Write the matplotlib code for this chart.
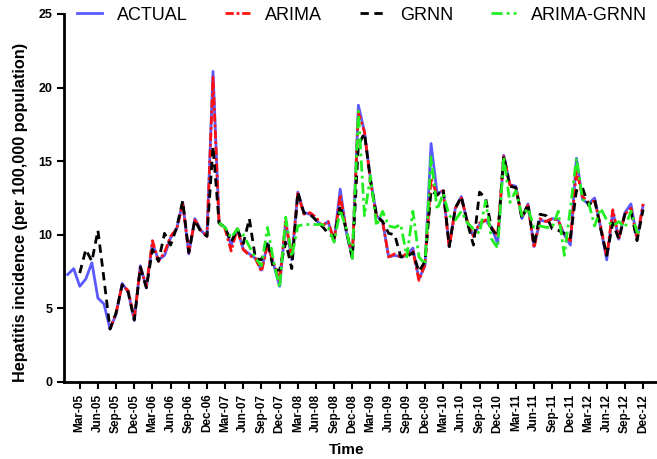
import numpy as np
import matplotlib
matplotlib.use("Agg")
import matplotlib.pyplot as plt

plt.rcParams['font.family'] = ['Liberation Sans', 'DejaVu Sans']

# monthly data, Jan-05 .. Dec-12 (index 0..95)
actual = [7.3, 7.7, 6.5, 7.0, 8.1, 5.7, 5.3, 3.6, 4.6, 6.7, 6.1, 4.2,
          7.9, 6.4, 9.4, 8.3, 8.6, 9.8, 10.4, 12.2, 8.7, 11.1, 10.3, 9.9,
          21.1, 10.8, 10.5, 9.3, 10.4, 9.0, 8.7, 8.4, 7.6, 9.4, 8.0, 6.5,
          10.9, 8.3, 12.9, 11.5, 11.4, 11.0, 10.6, 10.9, 9.6, 13.1, 10.2, 8.4,
          18.8, 17.0, 13.8, 11.3, 10.9, 8.5, 8.6, 8.5, 8.6, 9.1, 7.0, 7.9,
          16.2, 12.8, 13.0, 9.2, 11.8, 12.6, 10.8, 9.9, 10.7, 11.0, 10.5, 9.4,
          15.4, 13.4, 13.3, 11.1, 12.1, 9.2, 11.0, 10.9, 11.1, 11.0, 10.0, 9.3,
          15.2, 12.4, 12.1, 12.5, 10.5, 8.3, 11.6, 9.7, 11.5, 12.1, 9.7, 12.0]

arima_start = 7
arima = [3.6, 4.7, 6.6, 6.2, 4.3,
         7.8, 6.5, 9.6, 8.2, 8.8, 9.9, 10.4, 12.1, 8.8, 11.0, 10.3, 9.9,
         20.7, 10.8, 10.4, 8.9, 10.4, 9.0, 8.6, 8.4, 7.5, 9.3, 8.1, 6.9,
         10.9, 8.4, 12.8, 11.4, 11.5, 11.2, 10.6, 10.9, 9.6, 12.7, 10.3, 8.5,
         18.3, 17.0, 13.6, 11.2, 10.9, 8.5, 8.7, 8.5, 8.7, 8.9, 6.9, 8.0,
         13.8, 12.7, 13.0, 9.1, 11.8, 12.5, 10.9, 9.9, 10.8, 11.0, 10.5, 9.9,
         15.4, 13.4, 13.2, 11.2, 12.0, 9.1, 11.1, 10.9, 11.1, 11.0, 9.9, 9.6,
         14.4, 12.6, 12.2, 12.3, 10.6, 8.5, 11.7, 9.8, 11.4, 11.8, 9.7, 12.1]

grnn_start = 2
grnn = [7.4, 9.0, 8.2, 10.3, 7.0, 3.6, 4.7, 6.6, 6.1, 4.2,
        7.8, 6.4, 9.0, 8.2, 10.1, 9.3, 10.5, 12.3, 8.8, 11.0, 10.2, 9.9,
        16.0, 10.8, 10.5, 9.5, 10.4, 9.4, 11.1, 8.4, 8.3, 9.6, 7.6, 7.6,
        9.5, 7.7, 12.9, 11.5, 11.4, 11.0, 10.6, 10.1, 9.8, 12.0, 10.3, 8.4,
        16.1, 16.9, 13.7, 11.3, 10.9, 10.1, 10.0, 8.5, 8.5, 8.8, 7.5, 8.2,
        13.0, 12.7, 13.1, 9.2, 11.8, 12.6, 10.8, 9.3, 12.9, 12.5, 10.4, 9.9,
        15.4, 13.3, 13.2, 11.1, 12.1, 9.3, 11.4, 11.3, 10.4, 10.3, 10.1, 9.8,
        13.0, 13.2, 12.0, 12.4, 10.4, 8.6, 10.8, 9.7, 11.4, 11.6, 9.6, 11.7]

hybrid_start = 25
hybrid = [10.8, 10.5, 9.8, 10.4, 10.0, 9.2, 8.4, 7.9, 10.5, 8.2, 6.4,
          11.2, 8.5, 10.6, 10.7, 10.7, 10.7, 10.7, 10.5, 9.5, 11.7, 10.4, 8.4,
          18.4, 11.3, 14.0, 10.6, 11.6, 10.6, 10.5, 10.7, 8.5, 11.6, 8.5, 8.0,
          15.3, 11.7, 12.8, 11.3, 11.0, 11.6, 10.8, 10.4, 10.1, 12.3, 9.7, 9.1,
          15.3, 12.2, 13.0, 11.3, 11.8, 10.5, 10.6, 10.5, 10.5, 11.6, 8.6, 11.8,
          15.2, 12.4, 12.2, 10.6, 11.8, 11.0, 10.6, 10.9, 10.5, 11.6, 10.2, 10.0]

tick_labels = ['Mar-05', 'Jun-05', 'Sep-05', 'Dec-05', 'Mar-06', 'Jun-06', 'Sep-06', 'Dec-06',
               'Mar-07', 'Jun-07', 'Sep-07', 'Dec-07', 'Mar-08', 'Jun-08', 'Sep-08', 'Dec-08',
               'Mar-09', 'Jun-09', 'Sep-09', 'Dec-09', 'Mar-10', 'Jun-10', 'Sep-10', 'Dec-10',
               'Mar-11', 'Jun-11', 'Sep-11', 'Dec-11', 'Mar-12', 'Jun-12', 'Sep-12', 'Dec-12']

fig = plt.figure(figsize=(6.57, 4.59), dpi=100)
ax = fig.add_axes([64/657, 77/459, 593/657, 368/459])

ax.plot(np.arange(len(actual)), actual, color='#5a5aff', lw=2, label='ACTUAL')
ax.plot(np.arange(arima_start, arima_start+len(arima)), arima, color='#ff1010', lw=2,
        ls=(0, (3, 1, 1, 1)), label='ARIMA')
ax.plot(np.arange(grnn_start, grnn_start+len(grnn)), grnn, color='black', lw=2,
        ls=(0, (3, 2)), label='GRNN')
ax.plot(np.arange(hybrid_start, hybrid_start+len(hybrid)), hybrid, color='#22ee22', lw=2,
        ls=(0, (4, 1.5, 1, 1.5)), label='ARIMA-GRNN')

ax.set_xlim(-0.6, 97.3)
ax.set_ylim(0, 25)
ax.set_yticks([0, 5, 10, 15, 20, 25])
ax.set_xticks(np.arange(2, 96, 3))
ax.set_xticklabels(tick_labels, rotation=90, fontsize=8.5, fontweight='bold')
for lab in ax.get_yticklabels():
    lab.set_fontsize(9)
    lab.set_fontweight('bold')
ax.tick_params(axis='both', direction='out', length=5, width=1.5)

for s in ['top', 'right']:
    ax.spines[s].set_visible(False)
for s in ['left', 'bottom']:
    ax.spines[s].set_linewidth(2)

ax.set_ylabel('Hepatitis incidence (per 100,000 population)', fontsize=11.7, fontweight='bold')
ax.yaxis.set_label_coords(-0.061, 0.462)
fig.text(347/657, 1-450/459, 'Time', ha='center', va='center', fontsize=11, fontweight='bold')

fig.legend(loc='center left', bbox_to_anchor=(77/657, 1-15/459), ncol=4, frameon=False,
           fontsize=13, handlelength=1.4, handletextpad=0.8, columnspacing=2.1,
           borderpad=0, borderaxespad=0)

plt.savefig('out.png', dpi=100)
